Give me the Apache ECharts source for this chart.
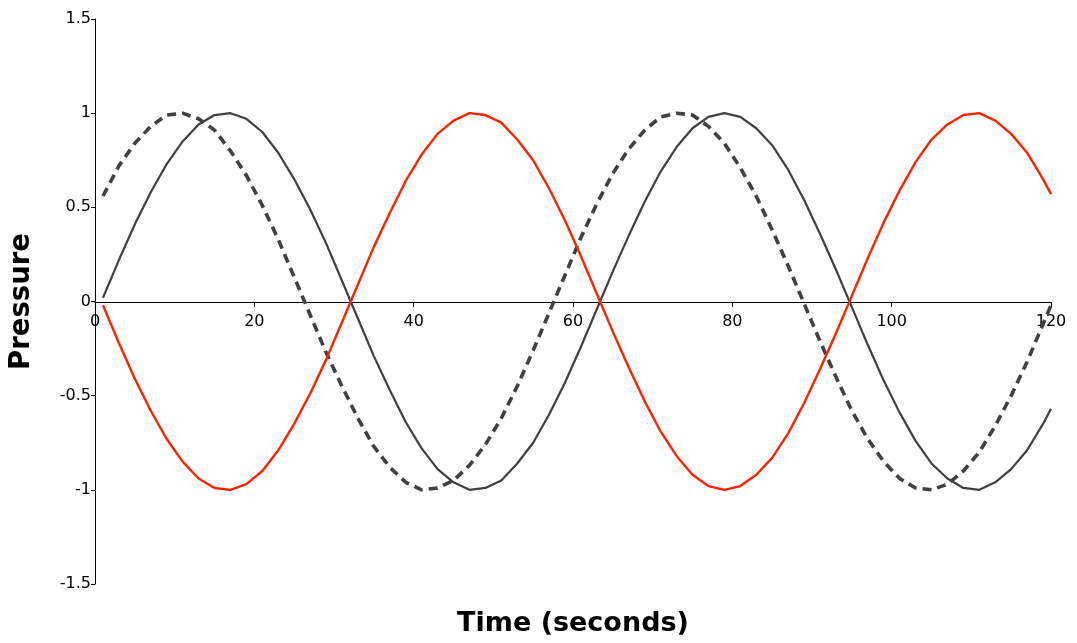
<!DOCTYPE html>
<html>
<head>
<meta charset="utf-8">
<title>Pressure vs time</title>
<script src="https://cdn.jsdelivr.net/npm/echarts@6/dist/echarts.min.js"></script>
<style>
  html, body { margin: 0; padding: 0; background: #fff; }
  #chart { width: 1077px; height: 643px; }
</style>
</head>
<body>
<div id="chart"></div>
<script>
// sample times (seconds)
const times = [
  1, 3, 5, 7, 9, 11, 13, 15, 17, 19, 21, 23, 25, 27, 29, 31, 33, 35, 37, 39,
  41, 43, 45, 47, 49, 51, 53, 55, 57, 59, 61, 63, 65, 67, 69, 71, 73, 75, 77, 79,
  81, 83, 85, 87, 89, 91, 93, 95, 97, 99, 101, 103, 105, 107, 109, 111, 113, 115, 117, 119,
  120
];

// dark solid curve
const solidPressure = [
  0.02, 0.22, 0.41, 0.58, 0.73, 0.85, 0.94, 0.99, 1.00, 0.97,
  0.90, 0.79, 0.65, 0.49, 0.31, 0.11, -0.09, -0.29, -0.47, -0.64,
  -0.78, -0.89, -0.96, -1.00, -0.99, -0.95, -0.86, -0.75, -0.60, -0.43,
  -0.24, -0.04, 0.16, 0.35, 0.53, 0.69, 0.82, 0.92, 0.98, 1.00,
  0.98, 0.92, 0.83, 0.70, 0.54, 0.36, 0.17, -0.03, -0.23, -0.42,
  -0.59, -0.74, -0.86, -0.94, -0.99, -1.00, -0.96, -0.89, -0.79, -0.65,
  -0.57
];

// red curve
const redPressure = [
  -0.02, -0.22, -0.41, -0.58, -0.73, -0.85, -0.94, -0.99, -1.00, -0.97,
  -0.90, -0.79, -0.65, -0.49, -0.31, -0.11, 0.09, 0.29, 0.47, 0.64,
  0.78, 0.89, 0.96, 1.00, 0.99, 0.95, 0.86, 0.75, 0.60, 0.43,
  0.24, 0.04, -0.16, -0.35, -0.53, -0.69, -0.82, -0.92, -0.98, -1.00,
  -0.98, -0.92, -0.83, -0.70, -0.54, -0.36, -0.17, 0.03, 0.23, 0.42,
  0.59, 0.74, 0.86, 0.94, 0.99, 1.00, 0.96, 0.89, 0.79, 0.65,
  0.57
];

// dashed curve
const dashedPressure = [
  0.56, 0.72, 0.84, 0.93, 0.99, 1.00, 0.97, 0.91, 0.80, 0.67,
  0.51, 0.33, 0.13, -0.07, -0.27, -0.45, -0.62, -0.77, -0.88, -0.96,
  -1.00, -0.99, -0.95, -0.87, -0.76, -0.62, -0.45, -0.26, -0.06, 0.14,
  0.34, 0.52, 0.68, 0.81, 0.91, 0.98, 1.00, 0.99, 0.93, 0.84,
  0.71, 0.56, 0.38, 0.19, -0.01, -0.21, -0.40, -0.58, -0.73, -0.85,
  -0.94, -0.99, -1.00, -0.97, -0.90, -0.80, -0.66, -0.50, -0.32, -0.12,
  -0.02
];

const pairs = (ys) => times.map((t, i) => [t, ys[i]]);

const chart = echarts.init(document.getElementById('chart'));
chart.setOption({
  animation: false,
  backgroundColor: '#fff',
  grid: { left: 95, right: 26, top: 19, bottom: 59, containLabel: false, outerBoundsMode: 'none' },
  xAxis: {
    type: 'value',
    min: 0,
    max: 120,
    interval: 20,
    // move the axis (line, ticks, labels) up to y = 0
    offset: -282,
    name: 'Time (seconds)',
    nameLocation: 'middle',
    nameGap: 322,
    nameTextStyle: {
      fontFamily: 'DejaVu Sans',
      fontWeight: 'bold',
      fontSize: 27,
      color: '#000',
      verticalAlign: 'middle'
    },
    axisLine: { onZero: false, lineStyle: { color: '#000', width: 1 } },
    axisTick: { show: true, length: 5, lineStyle: { color: '#000' } },
    axisLabel: { fontFamily: 'DejaVu Sans', fontSize: 16, color: '#000', margin: 12 },
    splitLine: { show: false }
  },
  yAxis: {
    type: 'value',
    min: -1.5,
    max: 1.5,
    interval: 0.5,
    name: 'Pressure',
    nameLocation: 'middle',
    nameGap: 73,
    nameTextStyle: {
      fontFamily: 'DejaVu Sans',
      fontWeight: 'bold',
      fontSize: 27.5,
      color: '#000',
      verticalAlign: 'middle'
    },
    axisLine: { show: true, onZero: false, lineStyle: { color: '#000', width: 1 } },
    axisTick: { show: true, length: 4, lineStyle: { color: '#000' } },
    axisLabel: { fontFamily: 'DejaVu Sans', fontSize: 16, color: '#000', margin: 4 },
    splitLine: { show: false }
  },
  series: [
    {
      name: 'dashed',
      type: 'line',
      data: pairs(dashedPressure),
      showSymbol: false,
      lineStyle: { color: '#404040', width: 3.6, type: [9, 6] }
    },
    {
      name: 'solid',
      type: 'line',
      data: pairs(solidPressure),
      showSymbol: false,
      lineStyle: { color: '#404040', width: 2.2 }
    },
    {
      name: 'red',
      type: 'line',
      data: pairs(redPressure),
      showSymbol: false,
      lineStyle: { color: '#ff2200', width: 2.4 }
    }
  ]
});
</script>
</body>
</html>
